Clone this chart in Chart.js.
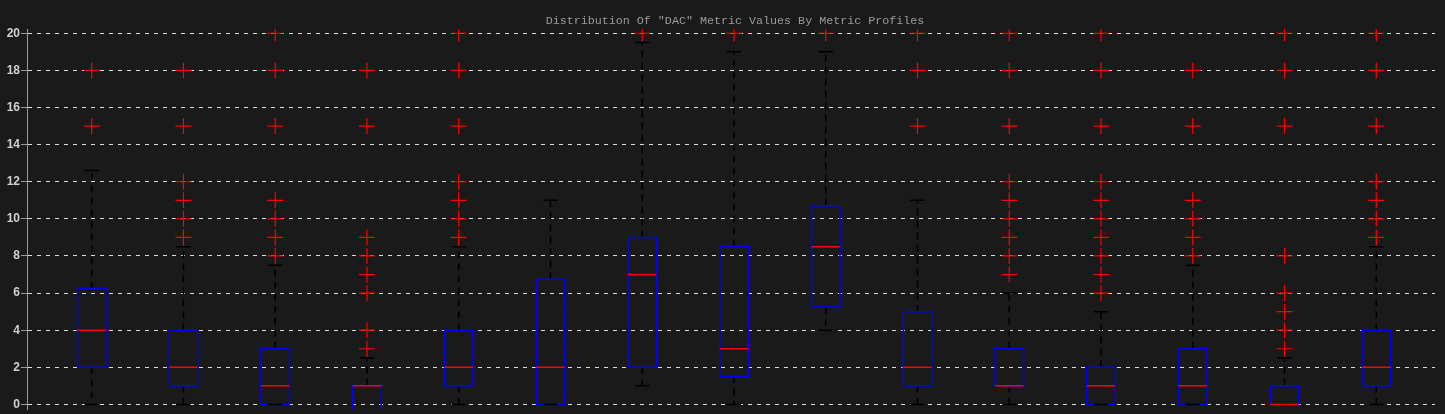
<!DOCTYPE html>
<html>
<head>
<meta charset="utf-8">
<script src="https://cdn.jsdelivr.net/npm/chart.js@4.4.0/dist/chart.umd.min.js"></script>
<style>
  html, body { margin: 0; padding: 0; background: #1a1a1a; overflow: hidden; }
  canvas { display: block; }
</style>
</head>
<body>
<!-- 5 px de plus : Chart.js garde une marge en bas, la fenêtre coupe à 414 -->
<canvas id="dacChart" width="1445" height="419"></canvas>
<script>
// Données
const chartTitle = 'Distribution Of "DAC" Metric Values By Metric Profiles';
const profiles = ['P1', 'P2', 'P3', 'P4', 'P5', 'P6', 'P7', 'P8', 'P9', 'P10', 'P11', 'P12', 'P13', 'P14', 'P15'];
const lowerWhisker = [0, 0, 0, -2, 0, 0, 1, 0, 4, 0, 0, 0, 0, 0, 0];
const q1Values = [2, 1, 0, -1, 1, 0, 2, 1.5, 5.25, 1, 1, 0, 0, 0, 1];
const medianValues = [4, 2, 1, 1, 2, 2, 7, 3, 8.5, 2, 1, 1, 1, 0, 2];
const q3Values = [6.25, 4, 3, 1, 4, 6.75, 9, 8.5, 10.7, 5, 3, 2, 3, 1, 4];
const upperWhisker = [12.6, 8.5, 7.5, 2.5, 8.5, 11, 19.5, 19, 19, 11, 6, 5, 7.5, 2.5, 8.5];
const outlierValues = [
  [15, 18],
  [9, 10, 11, 12, 15, 18],
  [8, 9, 10, 11, 15, 18, 20],
  [3, 4, 6, 7, 8, 9, 15, 18],
  [9, 10, 11, 12, 15, 18, 20],
  [],
  [20],
  [20],
  [20],
  [15, 18, 20],
  [7, 8, 9, 10, 11, 12, 15, 18, 20],
  [6, 7, 8, 9, 10, 11, 12, 15, 18, 20],
  [8, 9, 10, 11, 15, 18],
  [3, 4, 5, 6, 8, 15, 18, 20],
  [9, 10, 11, 12, 15, 18, 20]
];
const yTicks = [0, 2, 4, 6, 8, 10, 12, 14, 16, 18, 20];

// Construction des segments (null = coupure)
const BOX_HALF = 0.155;
const CAP_HALF = 0.077;
const gap = x => ({ x, y: null });

const boxPts = [], medPts = [], whiskPts = [], capPts = [], outPts = [];
profiles.forEach((p, i) => {
  const x = i + 1;
  const l = x - BOX_HALF, r = x + BOX_HALF;
  boxPts.push({ x: l, y: q1Values[i] }, { x: r, y: q1Values[i] }, { x: r, y: q3Values[i] },
              { x: l, y: q3Values[i] }, { x: l, y: q1Values[i] }, gap(x));
  medPts.push({ x: l, y: medianValues[i] }, { x: r, y: medianValues[i] }, gap(x));
  whiskPts.push({ x, y: q3Values[i] }, { x, y: upperWhisker[i] }, gap(x));
  whiskPts.push({ x, y: q1Values[i] }, { x, y: lowerWhisker[i] }, gap(x));
  capPts.push({ x: x - CAP_HALF, y: upperWhisker[i] }, { x: x + CAP_HALF, y: upperWhisker[i] }, gap(x));
  capPts.push({ x: x - CAP_HALF, y: lowerWhisker[i] }, { x: x + CAP_HALF, y: lowerWhisker[i] }, gap(x));
  outlierValues[i].forEach(v => outPts.push({ x, y: v }));
});

const segLine = (data, color, width, dash) => ({
  type: 'scatter',
  data,
  showLine: true,
  spanGaps: false,
  borderColor: color,
  borderWidth: width,
  borderDash: dash || [],
  pointRadius: 0,
  pointHoverRadius: 0,
  fill: false,
  tension: 0
});

// Titre dessiné au centre de la zone du graphique
const titlePlugin = {
  id: 'dacTitle',
  afterDraw(chart) {
    const { ctx, chartArea } = chart;
    ctx.save();
    ctx.font = '11.7px "Liberation Mono", "Courier New", monospace';
    ctx.fillStyle = '#9b9b9b';
    ctx.textAlign = 'center';
    ctx.textBaseline = 'middle';
    ctx.fillText(chartTitle, (chartArea.left + chartArea.right) / 2 + 4, 21);
    ctx.restore();
  }
};

new Chart(document.getElementById('dacChart'), {
  type: 'scatter',
  data: {
    datasets: [
      {
        type: 'scatter',
        data: outPts,
        showLine: false,
        pointStyle: 'cross',
        pointRadius: 8,
        pointHoverRadius: 8,
        borderColor: '#ff0000',
        borderWidth: 1.2
      },
      segLine(medPts, '#ff0000', 1.5),
      segLine(capPts, '#000000', 1.5),
      segLine(boxPts, '#0000ff', 1.5),
      segLine(whiskPts, '#000000', 1.5, [7, 5])
    ]
  },
  options: {
    responsive: false,
    animation: false,
    layout: { padding: { top: 29, right: 10, left: 0, bottom: 0 } },
    plugins: {
      legend: { display: false },
      tooltip: { enabled: false },
      title: { display: false }
    },
    scales: {
      x: {
        type: 'linear',
        display: false,
        min: 0.295,
        max: 15.64
      },
      y: {
        type: 'linear',
        min: -0.29,
        max: 20.23,
        afterBuildTicks: scale => { scale.ticks = yTicks.map(v => ({ value: v })); },
        afterFit: scale => {
          scale.width = 27;
          scale.paddingTop = 0;
          scale.paddingBottom = 0;
        },
        ticks: {
          color: '#d0d0d0',
          padding: 1,
          font: { family: '"Liberation Sans", Arial, sans-serif', size: 12, weight: 'bold' }
        },
        grid: {
          color: '#dcdcdc',
          lineWidth: 1,
          tickLength: 6,
          tickColor: '#9a9a9a'
        },
        border: {
          display: true,
          color: '#9a9a9a',
          width: 1,
          dash: [4, 5]
        }
      }
    }
  },
  plugins: [titlePlugin]
});
</script>
</body>
</html>
